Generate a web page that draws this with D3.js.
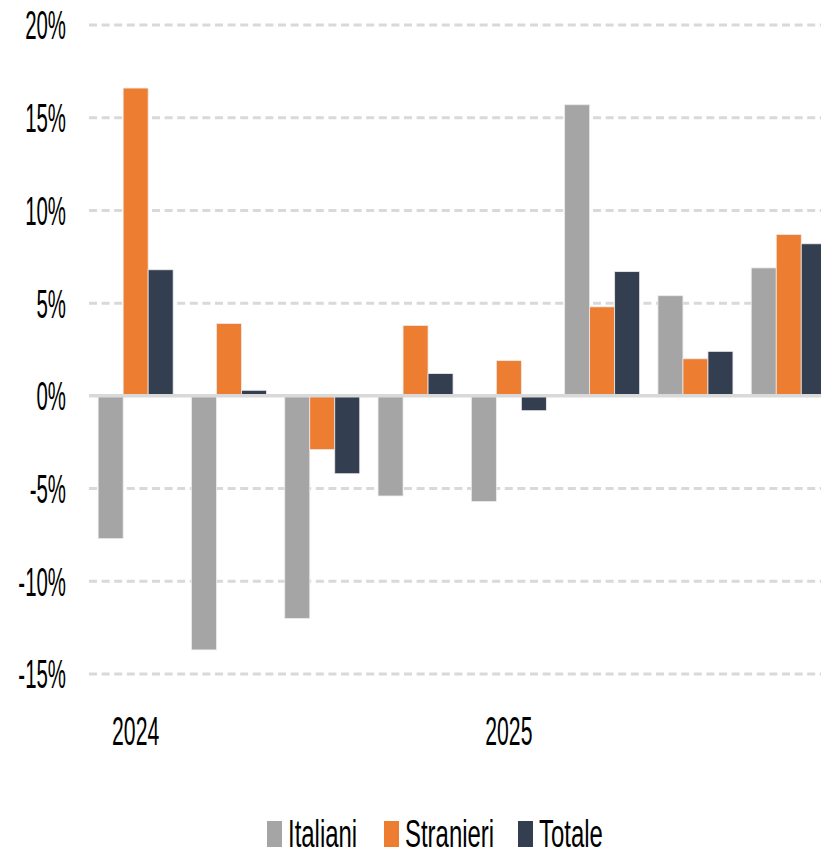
<!DOCTYPE html>
<html>
<head>
<meta charset="utf-8">
<script src="https://cdn.jsdelivr.net/npm/d3@7"></script>
<style>
  body { margin: 0; background: #fff; }
  text { font-family: "Liberation Sans", Arial, sans-serif; fill: #000; }
</style>
</head>
<body>
<script>
// quarters, with a year label only at the first quarter
var periods = ["2024-T1", "2024-T2", "2024-T3", "2024-T4", "2025-T1", "2025-T2", "2025-T3", "2025-T4"];
var periodLabels = ["2024", "", "", "", "2025", "", "", ""];
var seriesNames = ["Italiani", "Stranieri", "Totale"];
var italiani = [-7.7, -13.7, -12.0, -5.4, -5.7, 15.7, 5.4, 6.9];
var stranieri = [16.6, 3.9, -2.9, 3.8, 1.9, 4.8, 2.0, 8.7];
var totale = [6.8, 0.3, -4.2, 1.2, -0.8, 6.7, 2.4, 8.2];
var yTicks = [-15, -10, -5, 0, 5, 10, 15, 20];
var colors = ["#a5a5a5", "#ed7d31", "#333f50"];

var svgWidth = 821;
var svgHeight = 855;
var fontSize = "40px";
var numSqueeze = 0.51;  // narrow look for digits
var wordSqueeze = 0.63; // and for the legend words

var svg = d3.select("body")
  .append("svg")
  .attr("width", svgWidth)
  .attr("height", svgHeight);

var plotLeft = 89;
var step = 93.3;

var x0 = d3.scaleBand()
  .domain(periods)
  .range([plotLeft, plotLeft + step * periods.length])
  .padding(0);

var x1 = d3.scaleBand()
  .domain(seriesNames)
  .range([0, x0.bandwidth()])
  .paddingInner(0)
  .paddingOuter(0.366);

var y = d3.scaleLinear()
  .domain([-15, 20])
  .range([674, 25]);

// gridlines
svg.append("g")
  .selectAll("line")
  .data(yTicks.filter(d => d !== 0))
  .join("line")
  .attr("x1", plotLeft)
  .attr("x2", svgWidth)
  .attr("y1", d => y(d))
  .attr("y2", d => y(d))
  .attr("stroke", "#d9d9d9")
  .attr("stroke-width", 3)
  .attr("stroke-dasharray", "8,4.6");

// y labels
svg.append("g")
  .selectAll("text")
  .data(yTicks)
  .join("text")
  .attr("transform", d => `translate(66, ${y(d)}) scale(${numSqueeze},1)`)
  .attr("text-anchor", "end")
  .attr("dy", "0.36em")
  .style("font-size", fontSize)
  .text(d => d + "%");

// bars
var table = periods.map(function(p, i) {
  return { period: p, values: [italiani[i], stranieri[i], totale[i]] };
});

var groups = svg.append("g")
  .selectAll("g")
  .data(table)
  .join("g")
  .attr("transform", d => `translate(${x0(d.period)},0)`);

groups.selectAll("rect")
  .data(d => d.values.map((v, k) => ({ key: seriesNames[k], value: v, k: k })))
  .join("rect")
  .attr("x", d => x1(d.key))
  .attr("width", x1.bandwidth())
  .attr("y", d => y(Math.max(0, d.value)))
  .attr("height", d => Math.abs(y(d.value) - y(0)))
  .attr("fill", d => colors[d.k])
  .attr("stroke", "#ececec")
  .attr("stroke-width", 0.8);

// zero line
svg.append("line")
  .attr("x1", plotLeft)
  .attr("x2", svgWidth)
  .attr("y1", y(0))
  .attr("y2", y(0))
  .attr("stroke", "#d9d9d9")
  .attr("stroke-width", 3.5);

// x labels
svg.append("g")
  .selectAll("text")
  .data(periods)
  .join("text")
  .attr("transform", d => `translate(${x0(d) + x0.bandwidth() / 2}, 731) scale(${numSqueeze + 0.02},1)`)
  .attr("text-anchor", "middle")
  .attr("dy", "0.36em")
  .style("font-size", fontSize)
  .text((d, i) => periodLabels[i]);

// legend
var legendX = [267, 384, 518];
var legend = svg.append("g")
  .selectAll("g")
  .data(seriesNames)
  .join("g")
  .attr("transform", (d, i) => `translate(${legendX[i]}, 833)`);

legend.append("rect")
  .attr("x", 0)
  .attr("y", -12)
  .attr("width", 15)
  .attr("height", 26)
  .attr("fill", (d, i) => colors[i]);

legend.append("text")
  .attr("transform", `translate(21, 0) scale(${wordSqueeze},1)`)
  .attr("dy", "0.36em")
  .style("font-size", "38px")
  .text(d => d);
</script>
</body>
</html>
